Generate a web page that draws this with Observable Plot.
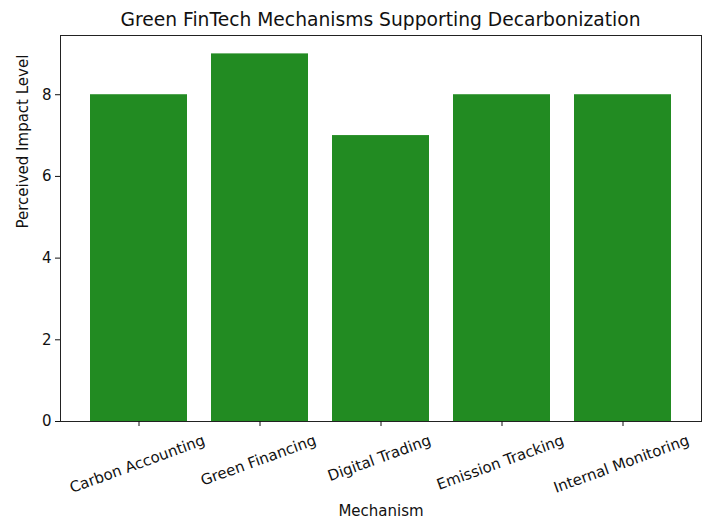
<!DOCTYPE html>
<html>
<head>
<meta charset="utf-8">
<script src="https://cdn.jsdelivr.net/npm/d3@7"></script>
<script src="https://cdn.jsdelivr.net/npm/@observablehq/plot@0.6"></script>
<style>
  html, body { margin: 0; padding: 0; background: #fff; }
  #title {
    box-sizing: border-box; height: 30px; padding-top: 11px; padding-left: 60px; width: 705px;
    padding-right: 4px; text-align: center; font: 18.7px "DejaVu Sans", sans-serif; line-height: 18px; color: #111;
  }
</style>
</head>
<body>
<div id="title">Green FinTech Mechanisms Supporting Decarbonization</div>
<div id="chart"></div>
<script>
const categories = ["Carbon Accounting", "Green Financing", "Digital Trading", "Emission Tracking", "Internal Monitoring"];
const values = [8, 9, 7, 8, 8];
const yTicks = [0, 2, 4, 6, 8];
const xLabel = "Mechanism";
const yLabel = "Perceived Impact Level";

const data = categories.map((c, i) => ({mechanism: c, value: values[i]}));

const fontSize = 15;
const canvas = document.createElement("canvas");
const ctx = canvas.getContext("2d");
ctx.font = `${fontSize}px "DejaVu Sans"`;
const ang = 20 * Math.PI / 180;
const labelTop = 15; // distance from axis bottom to top of rotated bbox
const labelMarks = categories.map(c => {
  const w = ctx.measureText(c).width;
  const h = fontSize * 1.1;
  const dy = labelTop + (w * Math.sin(ang) + h * Math.cos(ang)) / 2;
  return Plot.text([c], {x: d => d, frameAnchor: "bottom", dy, rotate: -20, fontSize, fill: "#111"});
});

const chart = Plot.plot({
  width: 705,
  height: 491,
  marginLeft: 60,
  marginRight: 4,
  marginTop: 5,
  marginBottom: 100,
  style: {fontFamily: "DejaVu Sans", fontSize: fontSize + "px", color: "#111", background: "#fff"},
  x: {domain: categories, paddingInner: 0.2, paddingOuter: 0.24, label: null},
  y: {domain: [0, 9.45], label: null},
  marks: [
    Plot.barY(data, {x: "mechanism", y: "value", fill: "#228B22"}),
    Plot.frame({stroke: "#222", strokeWidth: 1}),
    Plot.axisY({ticks: yTicks, tickSize: 5, tickPadding: 4, label: null, fontSize}),
    Plot.axisX({tickSize: 5, tickFormat: () => "", label: null}),
    ...labelMarks,
    Plot.text([xLabel], {frameAnchor: "bottom", dy: 94, fontSize, fill: "#111"}),
    Plot.text([yLabel], {frameAnchor: "left", dx: -37, rotate: -90, fontSize, fill: "#111"})
  ]
});
document.getElementById("chart").appendChild(chart);
</script>
</body>
</html>
